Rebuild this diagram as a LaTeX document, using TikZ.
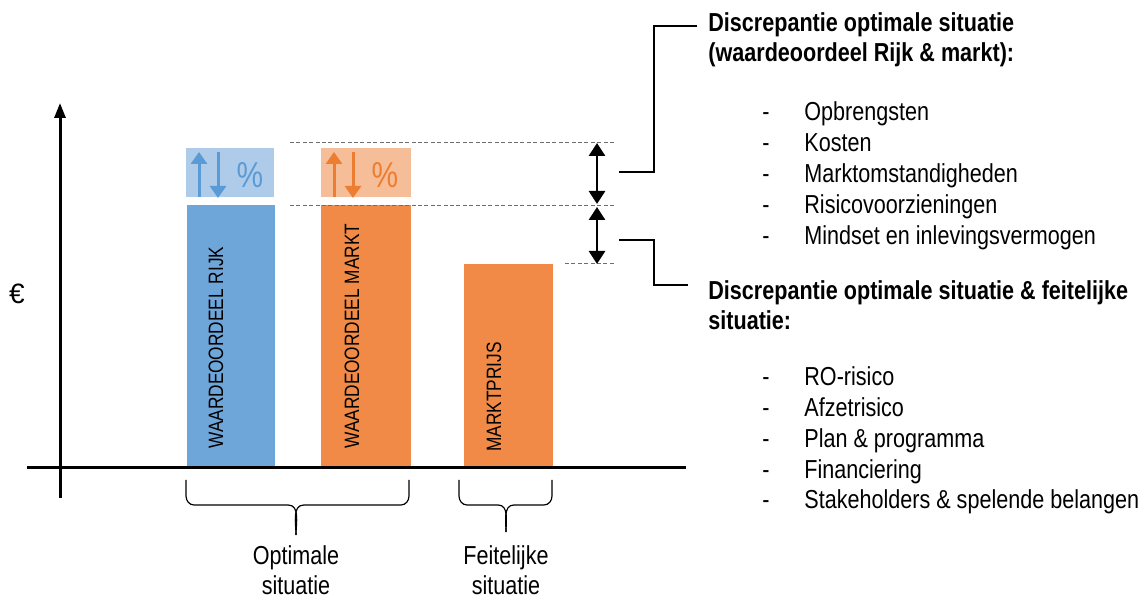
\documentclass[tikz,border=0pt]{standalone}
\usepackage{fontspec}
\setmainfont{Liberation Sans}[FakeStretch=0.83]
\newfontfamily\plainfont{Liberation Sans}
\usetikzlibrary{arrows.meta,fit}

\definecolor{barblue}{RGB}{111,166,218}
\definecolor{barorange}{RGB}{240,138,70}
\definecolor{paleblue}{RGB}{174,204,234}
\definecolor{paleorange}{RGB}{246,190,152}
\definecolor{markblue}{RGB}{91,155,213}
\definecolor{markorange}{RGB}{237,125,49}
\definecolor{guide}{RGB}{110,110,110}

\tikzset{
  bar/.style={inner sep=0pt, draw=none},
  barlabel/.style={rotate=90, anchor=west, inner sep=0pt, font=\fontsize{10.4}{12}\selectfont},
  axis/.style={line width=1.5pt},
  guideline/.style={guide, line width=0.5pt, dash pattern=on 2pt off 1.2pt},
  span/.style={line width=1.4pt, {Triangle[length=6.5pt,width=8pt]}-{Triangle[length=6.5pt,width=8pt]}},
  elbow/.style={line width=0.7pt},
  brace/.style={line width=0.6pt},
  txt/.style={anchor=base west, inner sep=0pt, font=\fontsize{13}{15}\selectfont},
  head/.style={txt, font=\fontsize{13}{15}\selectfont\bfseries},
  caption/.style={align=center, anchor=base, inner sep=0pt, font=\fontsize{13}{15}\selectfont},
  updown/.style={line width=1.5pt, -{Triangle[length=6pt,width=8pt]}},
  pct/.style={inner sep=0pt, anchor=base, font=\fontsize{18}{20}\selectfont},
}

\begin{document}
\begin{tikzpicture}[x=0.5pt,y=-0.5pt]
\useasboundingbox (0,0) rectangle (1147,598);

% bars
\node[bar, fill=barblue,   fit={(187,205)(275,468)}] (rijk) {};
\node[bar, fill=barorange, fit={(321,205)(411,468)}] (markt) {};
\node[bar, fill=barorange, fit={(464,264)(553,468)}] (prijs) {};
\node[barlabel] (rijkt)  at (216,449) {WAARDEOORDEEL RIJK};
\node[barlabel] (marktt) at (352,449) {WAARDEOORDEEL MARKT};
\node[barlabel] (prijst) at (494,452) {MARKTPRIJS};

% margin boxes on top of the optimal bars
\node[bar, fill=paleblue,   fit={(186,148)(274,197)}] (pb) {};
\node[bar, fill=paleorange, fit={(321,148)(411,197)}] (po) {};
\draw[updown, markblue] (199,197) -- (199,152);
\draw[updown, markblue] (218,152) -- (218,198);
\node[pct, text=markblue] (pbp) at (250,188) {\%};
\draw[updown, markorange] (334,197) -- (334,152);
\draw[updown, markorange] (353,152) -- (353,198);
\node[pct, text=markorange] (pop) at (385,188) {\%};

% axes
\coordinate (ybot) at (60,498);
\coordinate (ytop) at (60,103);
\coordinate (xl) at (27,468);
\coordinate (xr) at (686,468);
\draw[axis, -{Triangle[length=7.5pt,width=5.5pt]}] (ybot) -- (ytop);
\draw[axis] (xl) -- (xr);
\node[inner sep=0pt, anchor=base, font=\plainfont\fontsize{14}{16}\selectfont] (euro) at (17,304) {€};

% level guides
\coordinate (g1a) at (290,143); \coordinate (g1b) at (615,143);
\coordinate (g2a) at (290,206); \coordinate (g2b) at (615,206);
\coordinate (g3a) at (565,264); \coordinate (g3b) at (615,264);
\draw[guideline] (g1a) -- (g1b);
\draw[guideline] (g2a) -- (g2b);
\draw[guideline] (g3a) -- (g3b);

% spans between the levels
\coordinate (s1t) at (597,143); \coordinate (s1b) at (597,204);
\coordinate (s2t) at (597,207); \coordinate (s2b) at (597,264);
\draw[span] (s1t) -- (s1b);
\draw[span] (s2t) -- (s2b);

% headings and lists
\node[head] (h1a) at (708,32) {Discrepantie optimale situatie};
\node[head] (h1b) at (708,62) {(waardeoordeel Rijk \& markt):};
\node[head] (h2a) at (708,300) {Discrepantie optimale situatie \& feitelijke};
\node[head] (h2b) at (708,330) {situatie:};

\foreach \t [count=\i] in {Opbrengsten,Kosten,Marktomstandigheden,Risicovoorzieningen,Mindset en inlevingsvermogen}{
  \node[txt] (da\i) at (762,{90+31*\i}) {-};
  \node[txt] (la\i) at (804,{90+31*\i}) {\t};
}
\foreach \t [count=\i] in {RO-risico,Afzetrisico,Plan \& programma,Financiering,Stakeholders \& spelende belangen}{
  \node[txt] (db\i) at (762,{355+30.8*\i}) {-};
  \node[txt] (lb\i) at (804,{355+30.8*\i}) {\t};
}

% elbow connectors from the spans to the headings
\coordinate (e1s) at (619,172); \coordinate (e1e) at (697,26);
\coordinate (e2s) at (619,240); \coordinate (e2e) at (688,285);
\draw[elbow] (e1s) -- (654,172) -- (654,26) -- (e1e);
\draw[elbow] (e2s) -- (654,240) -- (654,285) -- (e2e);

% braces under the bars
\coordinate (b1l) at (186,480); \coordinate (b1r) at (409,480); \coordinate (b1t) at (296,535);
\draw[brace] (b1l) -- (186,496) to[out=-90,in=180] (194,505) -- (288,505)
  to[out=0,in=90] (b1t);
\draw[brace] (b1r) -- (409,496) to[out=-90,in=0] (401,505) -- (304,505)
  to[out=180,in=90] (b1t);
\coordinate (b2l) at (459,480); \coordinate (b2r) at (552,480); \coordinate (b2t) at (506,532);
\draw[brace] (b2l) -- (459,496) to[out=-90,in=180] (467,505) -- (498,505)
  to[out=0,in=90] (b2t);
\draw[brace] (b2r) -- (552,496) to[out=-90,in=0] (544,505) -- (514,505)
  to[out=180,in=90] (b2t);

\node[caption] (c1a) at (296,565) {Optimale};
\node[caption] (c1b) at (296,595) {situatie};
\node[caption] (c2a) at (506,565) {Feitelijke};
\node[caption] (c2b) at (506,595) {situatie};
\end{tikzpicture}
\end{document}
